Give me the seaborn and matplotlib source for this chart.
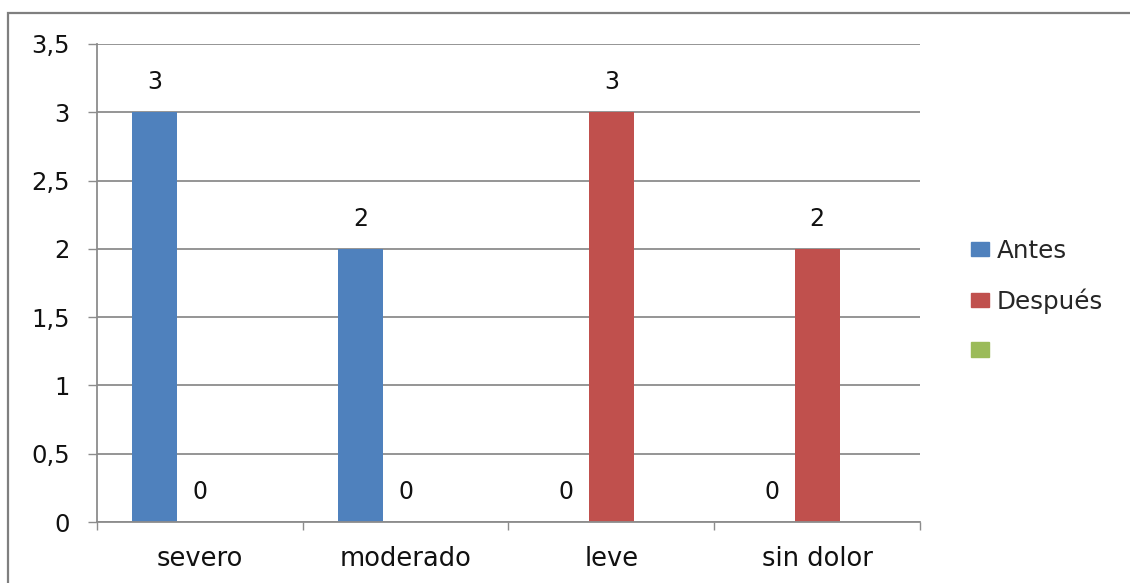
import numpy as np
import pandas as pd
import matplotlib
matplotlib.use("Agg")
import matplotlib.pyplot as plt
import seaborn as sns
from matplotlib.patches import Rectangle

# datos de la grafica
categorias = ["severo", "moderado", "leve", "sin dolor"]
antes = [3, 2, 0, 0]
despues = [0, 0, 3, 2]
serie3 = [np.nan, np.nan, np.nan, np.nan]   # serie vacia (verde) en la leyenda
series = ["Antes", "Después", "Serie3"]
etiquetas_leyenda = ["Antes", "Después", ""]
colores = ["#4F81BD", "#C0504D", "#9BBB59"]
yticks = [0, 0.5, 1, 1.5, 2, 2.5, 3, 3.5]


def getGraph():
    df = pd.DataFrame({
        "categoria": categorias * 3,
        "serie": [series[0]] * 4 + [series[1]] * 4 + [series[2]] * 4,
        "valor": antes + despues + serie3,
    })

    sns.set_style("white")
    plt.rcParams["font.family"] = ["DejaVu Sans"]

    fig = plt.figure(figsize=(11.3, 5.83), dpi=100)
    ax = fig.add_axes([97 / 1130, 61 / 583, 823 / 1130, 478 / 583])

    sns.barplot(data=df, x="categoria", y="valor", hue="serie",
                order=categorias, hue_order=series, palette=colores,
                width=0.655, gap=0, errorbar=None, legend=False,
                saturation=1, linewidth=0, ax=ax)

    # etiquetas de datos
    for cont in ax.containers:
        vals = cont.datavalues
        labels = ["" if np.isnan(v) else f"{v:g}" for v in vals]
        ax.bar_label(cont, labels=labels, padding=13, fontsize=17,
                     color="#111111")

    gris = "#8c8c8c"
    ax.set_xlim(-0.5, 3.5)
    ax.set_ylim(0, 3.5)
    ax.set_yticks(yticks)
    ax.set_yticklabels([f"{t:g}".replace(".", ",") for t in yticks],
                       fontsize=17.5, color="#111111")
    ax.yaxis.grid(True, color=gris, linewidth=1.3)
    ax.set_axisbelow(True)
    ax.tick_params(axis="y", length=6.5, width=1, color=gris, pad=13, left=True)

    ax.set_xticks(range(len(categorias)))
    ax.set_xticklabels(categorias, fontsize=18.5, color="#111111")
    ax.set_xticks(np.arange(-0.5, 4, 1), minor=True)
    ax.tick_params(axis="x", which="major", length=0, pad=17)
    ax.tick_params(axis="x", which="minor", length=6, width=1, color=gris,
                   bottom=True)
    ax.set_xlabel("")
    ax.set_ylabel("")

    for s in ["top", "right"]:
        ax.spines[s].set_visible(False)
    for s in ["left", "bottom"]:
        ax.spines[s].set_color(gris)
        ax.spines[s].set_linewidth(1.3)

    # leyenda
    handles = [plt.Rectangle((0, 0), 1, 1, color=c) for c in colores]
    fig.legend(handles, etiquetas_leyenda, loc="center left",
               bbox_to_anchor=(971 / 1130, 1 - 301 / 583), frameon=False,
               fontsize=17.7, handlelength=0.73, handleheight=0.53,
               handletextpad=0.33, labelspacing=1.03, borderpad=0,
               borderaxespad=0)

    # borde del area del grafico
    fig.patches.append(Rectangle((8 / 1130, -0.1), 1.2, 1 - 13 / 583 + 0.1,
                                 transform=fig.transFigure, fill=False,
                                 edgecolor="#7f7f7f", linewidth=1.6))

    fig.savefig("out.png", dpi=100)


if __name__ == "__main__":
    getGraph()
